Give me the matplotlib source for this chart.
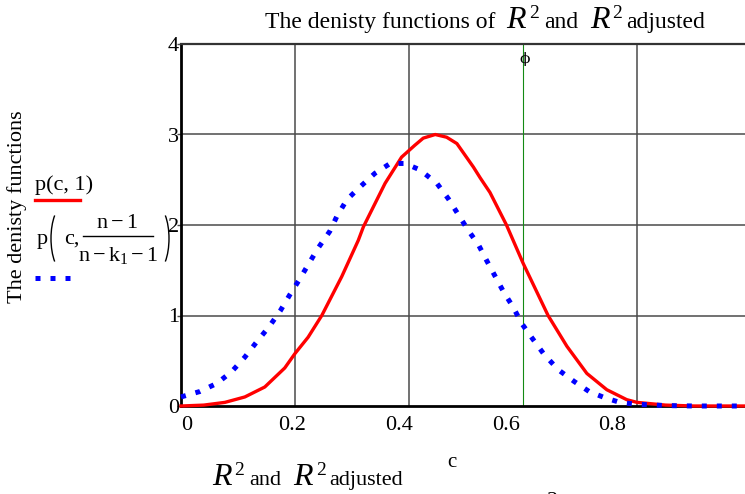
import matplotlib
matplotlib.use("Agg")
import matplotlib.pyplot as plt
import matplotlib.transforms as mtransforms
from matplotlib.lines import Line2D
from matplotlib.patches import Arc

# 数据
RED_C = [0.0, 0.04, 0.077, 0.112, 0.147, 0.182, 0.2, 0.223, 0.247, 0.282, 0.311,
         0.32, 0.358, 0.387, 0.41, 0.425, 0.446, 0.466, 0.484, 0.513, 0.525, 0.542,
         0.571, 0.6, 0.644, 0.677, 0.712, 0.747, 0.782, 0.8, 0.85, 0.9, 0.95, 1.0]
RED_Y = [0.0, 0.01, 0.04, 0.10, 0.21, 0.42, 0.58, 0.76, 1.0, 1.43, 1.83,
         1.98, 2.46, 2.75, 2.88, 2.96, 3.0, 2.97, 2.90, 2.64, 2.52, 2.36,
         2.0, 1.58, 1.0, 0.66, 0.36, 0.18, 0.07, 0.04, 0.01, 0.0, 0.0, 0.0]

BLUE_C = [0.0, 0.033, 0.063, 0.089, 0.112, 0.133, 0.155, 0.174, 0.191, 0.207, 0.223,
          0.24, 0.261, 0.273, 0.291, 0.314, 0.34, 0.367, 0.393, 0.419, 0.449, 0.469,
          0.487, 0.504, 0.522, 0.536, 0.566, 0.582, 0.598, 0.616, 0.637, 0.662, 0.69,
          0.716, 0.744, 0.77, 0.798, 0.85, 0.9, 0.95, 1.0]
BLUE_Y = [0.10, 0.16, 0.25, 0.38, 0.54, 0.71, 0.88, 1.05, 1.23, 1.39, 1.56,
          1.74, 1.93, 2.09, 2.28, 2.42, 2.57, 2.68, 2.68, 2.61, 2.46, 2.29,
          2.11, 1.94, 1.78, 1.61, 1.26, 1.10, 0.91, 0.75, 0.57, 0.40, 0.27,
          0.16, 0.09, 0.04, 0.02, 0.005, 0.0, 0.0, 0.0]

X_TICKS = [0, 0.2, 0.4, 0.6, 0.8]
X_TICK_LABELS = ['0', '0.2', '0.4', '0.6', '0.8']
Y_TICKS = [0, 1, 2, 3, 4]
GRID_X = [0.2, 0.4, 0.8]
GRID_Y = [1, 2, 3]
MARKER_C = 0.6

# 配置
W_PX, H_PX = 745, 494
SERIF = ['Liberation Serif', 'DejaVu Serif']
plt.rcParams['font.family'] = SERIF
plt.rcParams['mathtext.fontset'] = 'custom'
plt.rcParams['mathtext.rm'] = 'Liberation Serif'
plt.rcParams['mathtext.it'] = 'Liberation Serif:italic'
plt.rcParams['mathtext.bf'] = 'Liberation Serif:bold'

fig = plt.figure(figsize=(W_PX / 100, H_PX / 100), dpi=100)
ax_l, ax_r, ax_t, ax_b = 181, W_PX, 44, 406
ax = fig.add_axes([ax_l / W_PX, 1 - ax_b / H_PX, (ax_r - ax_l) / W_PX, (ax_b - ax_t) / H_PX])

ax.set_xlim(0, (ax_r - ax_l) / 570)
ax.set_ylim(0, 4)

# 网格
for gx in GRID_X:
    ax.axvline(gx, color='#4a4a4a', lw=1.1, zorder=1)
for gy in GRID_Y:
    ax.axhline(gy, color='#4a4a4a', lw=1.1, zorder=1)
ax.axvline(MARKER_C, color='#138a13', lw=0.8, zorder=1)

# 曲线
ax.plot(RED_C, RED_Y, color='#ff0000', lw=2.4, clip_on=False, zorder=3)
ax.plot(BLUE_C, BLUE_Y, color='#0000ff', lw=3.6, linestyle=(0, (1, 2)),
        clip_on=False, zorder=4)

# 坐标轴样式
ax.spines['right'].set_visible(False)
ax.spines['left'].set_linewidth(2)
ax.spines['bottom'].set_linewidth(2)
ax.spines['top'].set_linewidth(1.6)
ax.spines['top'].set_color('#333333')

ax.set_xticks(X_TICKS)
ax.set_xticklabels(X_TICK_LABELS)
ax.set_yticks(Y_TICKS)
ax.tick_params(axis='x', length=0, pad=7, labelsize=16)
ax.tick_params(axis='y', length=3, width=1, color='#4a4a4a', pad=-1.5, labelsize=16)

# Mathcad 风格的刻度标签偏移
x_shift_px = [6, -2.5, -10, -17, -25]
for lab, dx in zip(ax.get_xticklabels(), x_shift_px):
    lab.set_transform(lab.get_transform() +
                      mtransforms.ScaledTranslation(dx / 100, 0, fig.dpi_scale_trans))

fig.canvas.draw()
renderer = fig.canvas.get_renderer()


def fx(x):
    return x / W_PX


def fy(y):
    return 1 - y / H_PX


def draw_rich(x, y, pieces):
    """按顺序绘制混合字号文本，x/y 为像素（左上原点，y 为基线）"""
    for s, size, style, rise, gap in pieces:
        t = fig.text(fx(x), fy(y - rise), s, fontsize=size, style=style,
                     family=SERIF, ha='left', va='baseline')
        x = t.get_window_extent(renderer).x1 + gap


def r2_pieces(size):
    return [
        ("R", 23, 'italic', 0, 3),
        ("2", 14, 'normal', 10, 5),
        ("and", size, 'normal', 0, 12),
        ("R", 23, 'italic', 0, 3),
        ("2", 14, 'normal', 10, 4),
        ("adjusted", size, 'normal', 0, 0),
    ]


# 标题
draw_rich(265, 28, [("The denisty functions of", 17, 'normal', 0, 11)] + r2_pieces(17))
# 底部说明
draw_rich(212, 485, r2_pieces(16))

# 轴标签
fig.text(fx(17), fy(207), "The denisty functions", rotation=90,
         fontsize=16, ha='center', va='center')
fig.text(fx(452), fy(462), "c", fontsize=15, ha='center', va='center')
fig.text(fx(553), fy(492), "2", fontsize=16, ha='center', va='top')
fig.text(fx(525), fy(59), "\u03d5", fontsize=11, ha='center', va='center',
         family=['DejaVu Serif'])

# 图例（Mathcad 风格）
fig.text(fx(35), fy(190), "p(c, 1)", fontsize=16, ha='left', va='baseline')
fig.add_artist(Line2D([fx(35), fx(80)], [fy(200)] * 2, color='#ff0000', lw=2.4))

fig.text(fx(37), fy(244), "p", fontsize=16, ha='left', va='baseline')
fig.text(fx(64), fy(244), "c,", fontsize=16, ha='left', va='baseline')
fig.text(fx(117), fy(228), r"$\mathrm{n}-1$", fontsize=16, ha='center', va='baseline')
fig.text(fx(118), fy(261), r"$\mathrm{n}-\mathrm{k}_{1}-1$", fontsize=16,
         ha='center', va='baseline')
fig.add_artist(Line2D([fx(83), fx(153)], [fy(236)] * 2, color='black', lw=1.0))
# 大括号（用椭圆弧表示）
paren_y = 238.5
for cx, t1, t2 in [(64, 105, 255), (156, -75, 75)]:
    fig.add_artist(Arc((fx(cx), fy(paren_y)), 26 / W_PX, 66 / H_PX,
                       theta1=t1, theta2=t2, color='black', lw=1.0,
                       transform=fig.transFigure))
fig.add_artist(Line2D([fx(35), fx(74)], [fy(278)] * 2, color='#0000ff', lw=3.6,
                      linestyle=(0, (1, 2))))

fig.savefig('out.png', dpi=100)
